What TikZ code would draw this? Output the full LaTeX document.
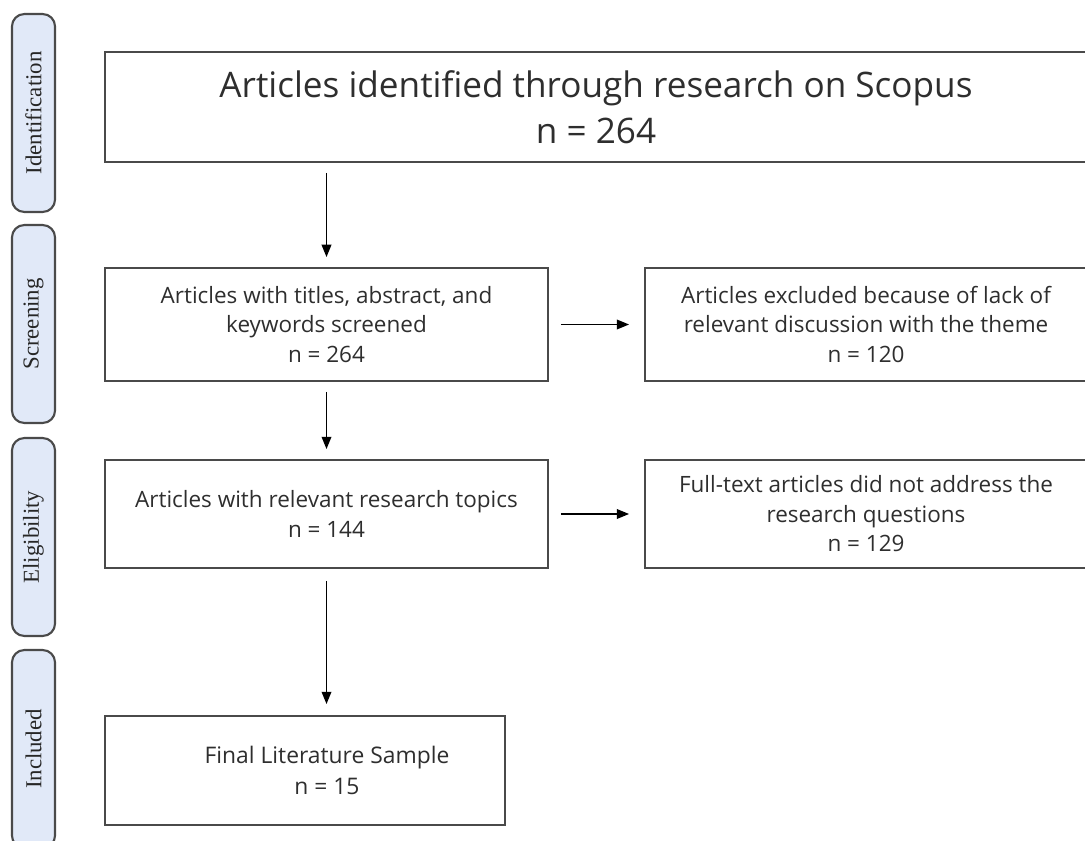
\documentclass[tikz,border=0pt]{standalone}
\usepackage{fontspec}
\setmainfont{Open Sans}
\newfontfamily\stagefont{Liberation Serif}
\usetikzlibrary{arrows.meta}
\definecolor{stagefill}{HTML}{E1E9F8}
\definecolor{boxline}{HTML}{4A4A4A}
\definecolor{boxtext}{HTML}{2E2E2E}
\begin{document}
\begin{tikzpicture}[x=0.02cm, y=-0.02cm,
    stagebox/.style={draw=boxline, fill=stagefill, line width=1.2pt, rounded corners=7pt,
        rotate=90, minimum width=3.96cm, minimum height=0.86cm, inner sep=0pt,
        font=\stagefont\fontsize{13}{15}\selectfont, text=black!85},
    flowbox/.style={draw=boxline, line width=1.1pt, inner sep=0pt, align=center,
        text=boxtext, font=\fontsize{12.8}{16.8}\selectfont},
    flowarrow/.style={-{Triangle[length=7pt, width=5.5pt]}, line width=0.9pt, black}]
        \useasboundingbox (0,0) rectangle (1085,841);
        \clip (0,0) rectangle (1085,841);

        % Etapy
        \node[stagebox] (sIdent) at (33.5,113) {Identification};
        \node[stagebox] (sScreen) at (33.5,324) {Screening};
        \node[stagebox] (sElig) at (33.5,537) {Eligibility};
        \node[stagebox] (sIncl) at (33.5,749) {Included};

        % Bloki
        \node[flowbox, minimum width=19.64cm, minimum height=2.2cm,
            font=\fontsize{20}{26}\selectfont] (ident) at (596,107)
            {Articles identified through research on Scopus\\n = 264};
        \node[flowbox, minimum width=8.86cm, minimum height=2.26cm] (screen) at (326.5,324.5)
            {Articles with titles, abstract, and\\keywords screened\\n = 264};
        \node[flowbox, minimum width=8.84cm, minimum height=2.26cm] (excl) at (866,324.5)
            {Articles excluded because of lack of\\relevant discussion with the theme\\n = 120};
        \node[flowbox, minimum width=8.86cm, minimum height=2.16cm] (elig) at (326.5,514)
            {Articles with relevant research topics\\n = 144};
        \node[flowbox, minimum width=8.84cm, minimum height=2.16cm] (noaddr) at (866,514)
            {Full-text articles did not address the\\research questions\\n = 129};
        \node[flowbox, minimum width=8cm, minimum height=2.18cm,
            font=\fontsize{13}{17.5}\selectfont] (incl) at (305,770.5)
            {\hspace*{0.88cm}Final Literature Sample\\\hspace*{0.88cm}n = 15};

        % Strzalki
        \draw[flowarrow, shorten <=0.2cm, shorten >=0.2cm] (screen.north |- ident.south) -- (screen.north);
        \draw[flowarrow, shorten <=0.2cm, shorten >=0.2cm] (screen.south) -- (elig.north);
        \draw[flowarrow, shorten <=0.24cm, shorten >=0.3cm] (screen.east) -- (excl.west);
        \draw[flowarrow, shorten <=0.24cm, shorten >=0.3cm] (elig.east) -- (noaddr.west);
        \draw[flowarrow, shorten <=0.24cm, shorten >=0.22cm] (elig.south) -- (elig.south |- incl.north);
    \end{tikzpicture}
\end{document}
